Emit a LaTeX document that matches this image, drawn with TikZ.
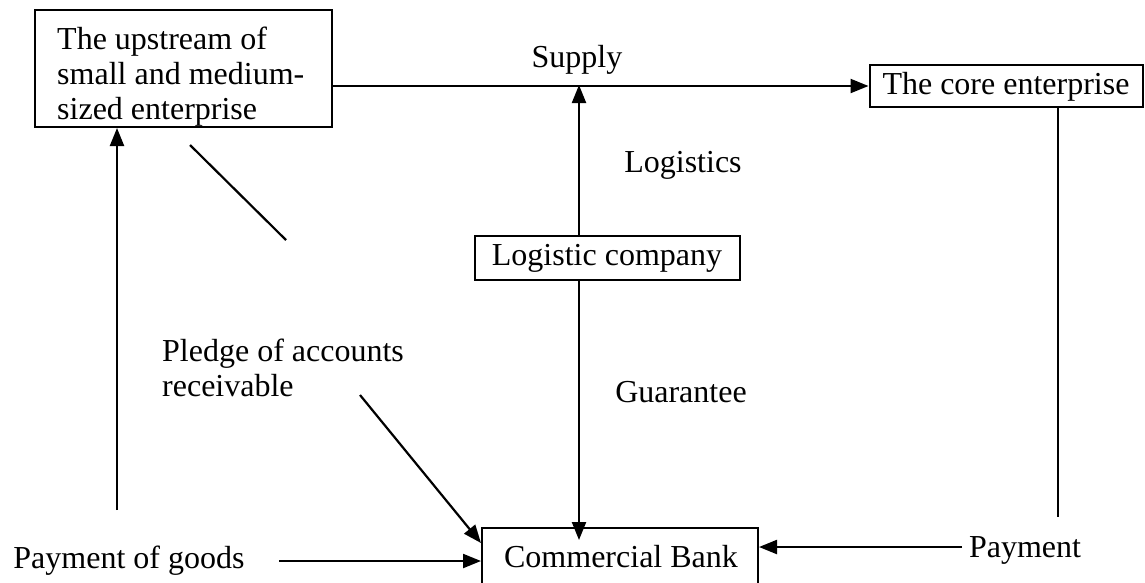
\documentclass[tikz,border=0pt]{standalone}
\usepackage{fontspec}
\setmainfont{Liberation Serif}
\usetikzlibrary{arrows.meta}
\tikzset{
  box/.style={draw, line width=2pt, rectangle, inner sep=0pt},
  lbl/.style={inner sep=0pt, font=\fontsize{32}{35}\selectfont},
  conn/.style={line width=2.2pt},
  arr/.style={conn, -{Triangle[length=18pt,width=14pt]}}
}
\begin{document}
\begin{tikzpicture}[x=1pt,y=-1pt]
\useasboundingbox (0,0) rectangle (1145,582);
\clip (0,0) rectangle (1145,582);
% boxes
\node[box, minimum width=297pt, minimum height=117pt] (up) at (183.5,68.5) {};
\node[lbl, align=left, anchor=west] (uptext) at (57,77) {The upstream of\\small and medium-\\sized enterprise};
\node[box, minimum width=273pt, minimum height=42pt] (core) at (1006,86) {};
\node[lbl] (coretext) at (1006,87) {The core enterprise};
\node[box, minimum width=265pt, minimum height=44pt, lbl] (log) at (607,258) {Logistic company};
\node[box, minimum width=276pt, minimum height=82pt] (bank) at (620,569) {};
\node[lbl, anchor=base] (banktext) at (621,567) {Commercial Bank};
% labels
\node[lbl] (supply) at (577,60) {Supply};
\node[lbl] (logistics) at (683,165) {Logistics};
\node[lbl] (guar) at (681,392) {Guarantee};
\node[lbl, align=left, anchor=west] (pledge) at (162,368) {Pledge of accounts\\receivable};
\node[lbl, anchor=base] (pog) at (129,568) {Payment of goods};
\node[lbl, anchor=base] (pay) at (1025,557) {Payment};
% free ends
\coordinate (lv) at (117,510);
\coordinate (cd) at (1058,517);
\coordinate (d1) at (190,145);
\coordinate (d2) at (286,240);
\coordinate (d3) at (360,395);
\coordinate (pg) at (279,561);
\coordinate (ps) at (962,547);
% connectors
\draw[arr] (up.east |- core.west) -- (core.west);
\draw[arr] ([xshift=-28pt]log.north) -- ([xshift=-28pt,yshift=1pt]log.north |- core.west);
\draw[arr] ([xshift=-28pt]log.south) -- ([xshift=-28pt,yshift=-13pt]log.south |- bank.north);
\draw[arr] (lv) -- (lv |- up.south);
\draw[conn] (core.south -| cd) -- (cd);
\draw[conn] (d1) -- (d2);
\draw[arr] (d3) -- ([yshift=-16pt]bank.north west);
\draw[arr] (pg) -- (pg -| bank.west);
\draw[arr] (ps) -- (ps -| bank.east);
\end{tikzpicture}
\end{document}
